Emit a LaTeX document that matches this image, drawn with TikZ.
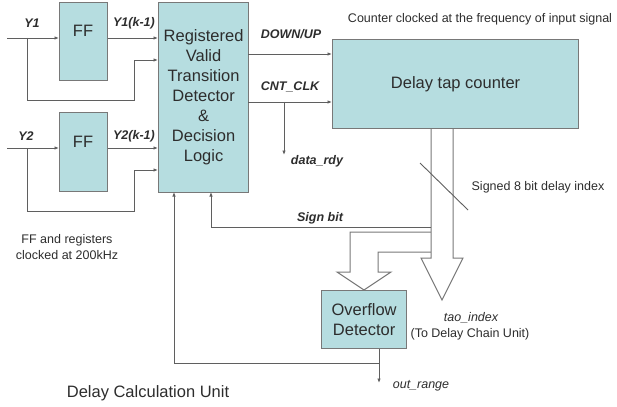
\documentclass[tikz,border=0pt]{standalone}
\usepackage{fontspec}
\setmainfont{Liberation Sans}
\usetikzlibrary{arrows.meta}
\definecolor{boxfill}{RGB}{182,221,224}
\definecolor{boxline}{RGB}{120,120,120}
\definecolor{wire}{RGB}{95,95,95}
\definecolor{txt}{RGB}{45,45,45}
\begin{document}
\begin{tikzpicture}[x=1pt,y=-1pt,
  blk/.style={draw=boxline,fill=boxfill,line width=1.2pt,inner sep=0pt,anchor=north west,text=txt,font=\fontsize{16.5}{20}\selectfont,align=center},
  wirel/.style={draw=wire,line width=0.9pt},
  arr/.style={wirel,-{Latex[length=4.5pt,width=3.5pt]}},
  big/.style={text=txt,font=\fontsize{16.5}{20}\selectfont,inner sep=0pt},
  sm/.style={text=txt,font=\fontsize{12.5}{15}\selectfont,inner sep=0pt},
  sig/.style={text=txt,font=\fontsize{12.5}{15}\selectfont\bfseries\itshape,inner sep=0pt},
  sigl/.style={text=txt,font=\fontsize{12.5}{15}\selectfont\itshape,inner sep=0pt},
  hollow/.style={draw=boxline,line width=1pt,fill=white,line join=miter}
]
\useasboundingbox (0,0) rectangle (617,406);

% hollow bus arrows (drawn first so box borders stay on top)
\draw[hollow] (431,232) -- (350,232) -- (350,272) -- (337,272) -- (364,290) -- (391,272) -- (378,272) -- (378,252) -- (431,252);
\draw[hollow] (431,128) -- (431,258) -- (421,258) -- (442,300) -- (463,258) -- (453,258) -- (453,128);

% blocks
\node[blk,minimum width=48pt,minimum height=78pt] (ff1) at (59,2) {};
\node[blk,minimum width=48pt,minimum height=79pt] (ff2) at (59,112) {};
\node[blk,minimum width=90pt,minimum height=190pt] (main) at (158,2)
  {Registered\\Valid\\Transition\\Detector\\\&\\Decision\\Logic};
\node[blk,minimum width=246pt,minimum height=89pt] (ctr) at (332,39) {Delay tap counter};
\node[blk,minimum width=85pt,minimum height=58pt] (ovf) at (321,290) {Overflow\\Detector};
\node[big] (ff1t) at (83,31) {FF};
\node[big] (ff2t) at (83,142) {FF};

% coordinates
\coordinate (y1in) at (7,38);
\coordinate (y1br) at (27,38);
\coordinate (j1) at (134,100);
\coordinate (m1b) at (158,60);
\coordinate (y2in) at (7,148);
\coordinate (y2br) at (27,148);
\coordinate (j2) at (134,211);
\coordinate (m2b) at (158,170);
\coordinate (du) at (248,54);
\coordinate (cc) at (248,102);
\coordinate (dr) at (284,102);
\coordinate (drend) at (284,155);
\coordinate (sb) at (431,227);
\coordinate (sbc) at (211,227);
\coordinate (sbend) at (211,192);
\coordinate (ovo) at (379,363);
\coordinate (fbc) at (174,363);
\coordinate (fbend) at (174,192);
\coordinate (ovend) at (379,383);
\coordinate (sl1) at (420,163);
\coordinate (sl2) at (468,210);

% inputs
\draw[arr] (y1in) -- (y1in -| ff1.west);
\draw[arr] (y1br) |- (j1) |- (m1b);
\draw[arr] (ff1.east |- y1in) -- (main.west |- y1in);
\draw[arr] (y2in) -- (y2in -| ff2.west);
\draw[arr] (y2br) |- (j2) |- (m2b);
\draw[arr] (ff2.east |- y2in) -- (main.west |- y2in);

% outputs to counter
\draw[arr] (du) -- (du -| ctr.west);
\draw[arr] (cc) -- (cc -| ctr.west);
\draw[arr] (dr) -- (drend);

% bus slash
\draw[wirel] (sl1) -- (sl2);

% feedback
\draw[arr] (sb) -- (sbc) -- (sbend);
\draw[arr] (ovf.south -| ovo) -- (ovend);
\draw[arr] (ovo) -- (fbc) -- (fbend);

% labels
\node[sig] (ly1) at (32,23) {Y1};
\node[sig] (ly1k) at (134,23) {Y1(k-1)};
\node[sig] (ly2) at (26,136) {Y2};
\node[sig] (ly2k) at (134,136) {Y2(k-1)};
\node[sig] (ldu) at (291,34) {DOWN/UP};
\node[sig] (lcc) at (290,87) {CNT\_CLK};
\node[sig] (ldr) at (317,161) {data\_rdy};
\node[sig] (lsb) at (320,218) {Sign bit};
\node[sm] (lctr) at (480,19) {Counter clocked at the frequency of input signal};
\node[sm] (lsig) at (538,187) {Signed 8 bit delay index};
\node[sigl] (ltao) at (471,318) {tao\_index};
\node[sm] (ltodc) at (470,334) {(To Delay Chain Unit)};
\node[sigl] (lout) at (421,386) {out\_range};
\node[sm,align=center,font=\fontsize{12.5}{16}\selectfont] (lff) at (67,247) {FF and registers\\clocked at 200kHz};
\node[big] (ldcu) at (148,393) {Delay Calculation Unit};
\end{tikzpicture}
\end{document}
